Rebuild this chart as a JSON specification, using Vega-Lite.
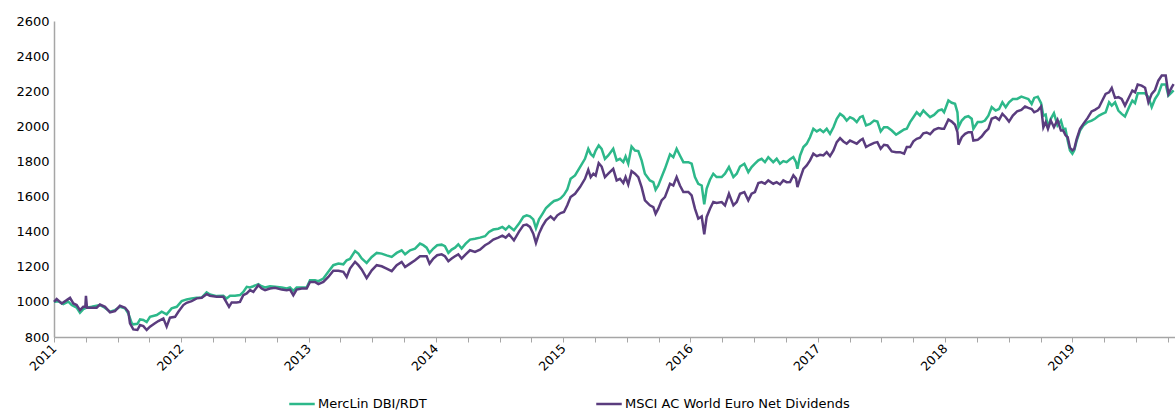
{
 "$schema": "https://vega.github.io/schema/vega-lite/v6.json",
 "width": 1121, "height": 316,
 "autosize": {"type": "none"},
 "padding": {"left": 54, "top": 21, "right": 0, "bottom": 75},
 "background": "white",
 "config": {"view": {"stroke": null}, "font": "DejaVu Sans"},
 "data": {"values": [
{"t":2011.000,"MercLin DBI/RDT":1000,"MSCI AC World Euro Net Dividends":1000},
{"t":2011.021,"MercLin DBI/RDT":null,"MSCI AC World Euro Net Dividends":1016},
{"t":2011.034,"MercLin DBI/RDT":1004,"MSCI AC World Euro Net Dividends":null},
{"t":2011.060,"MercLin DBI/RDT":null,"MSCI AC World Euro Net Dividends":991},
{"t":2011.073,"MercLin DBI/RDT":987,"MSCI AC World Euro Net Dividends":null},
{"t":2011.100,"MercLin DBI/RDT":null,"MSCI AC World Euro Net Dividends":1010},
{"t":2011.113,"MercLin DBI/RDT":1001,"MSCI AC World Euro Net Dividends":null},
{"t":2011.126,"MercLin DBI/RDT":null,"MSCI AC World Euro Net Dividends":1023},
{"t":2011.139,"MercLin DBI/RDT":982,"MSCI AC World Euro Net Dividends":null},
{"t":2011.152,"MercLin DBI/RDT":null,"MSCI AC World Euro Net Dividends":991},
{"t":2011.178,"MercLin DBI/RDT":968,"MSCI AC World Euro Net Dividends":982},
{"t":2011.204,"MercLin DBI/RDT":938,"MSCI AC World Euro Net Dividends":953},
{"t":2011.230,"MercLin DBI/RDT":959,"MSCI AC World Euro Net Dividends":972},
{"t":2011.246,"MercLin DBI/RDT":null,"MSCI AC World Euro Net Dividends":972},
{"t":2011.251,"MercLin DBI/RDT":null,"MSCI AC World Euro Net Dividends":1035},
{"t":2011.257,"MercLin DBI/RDT":967,"MSCI AC World Euro Net Dividends":null},
{"t":2011.259,"MercLin DBI/RDT":null,"MSCI AC World Euro Net Dividends":967},
{"t":2011.296,"MercLin DBI/RDT":972,"MSCI AC World Euro Net Dividends":967},
{"t":2011.335,"MercLin DBI/RDT":null,"MSCI AC World Euro Net Dividends":967},
{"t":2011.361,"MercLin DBI/RDT":982,"MSCI AC World Euro Net Dividends":985},
{"t":2011.388,"MercLin DBI/RDT":972,"MSCI AC World Euro Net Dividends":null},
{"t":2011.401,"MercLin DBI/RDT":null,"MSCI AC World Euro Net Dividends":972},
{"t":2011.440,"MercLin DBI/RDT":944,"MSCI AC World Euro Net Dividends":940},
{"t":2011.479,"MercLin DBI/RDT":953,"MSCI AC World Euro Net Dividends":948},
{"t":2011.518,"MercLin DBI/RDT":972,"MSCI AC World Euro Net Dividends":978},
{"t":2011.558,"MercLin DBI/RDT":963,"MSCI AC World Euro Net Dividends":967},
{"t":2011.584,"MercLin DBI/RDT":934,"MSCI AC World Euro Net Dividends":944},
{"t":2011.597,"MercLin DBI/RDT":null,"MSCI AC World Euro Net Dividends":878},
{"t":2011.610,"MercLin DBI/RDT":880,"MSCI AC World Euro Net Dividends":null},
{"t":2011.623,"MercLin DBI/RDT":872,"MSCI AC World Euro Net Dividends":843},
{"t":2011.655,"MercLin DBI/RDT":875,"MSCI AC World Euro Net Dividends":840},
{"t":2011.676,"MercLin DBI/RDT":900,"MSCI AC World Euro Net Dividends":868},
{"t":2011.702,"MercLin DBI/RDT":897,"MSCI AC World Euro Net Dividends":862},
{"t":2011.728,"MercLin DBI/RDT":885,"MSCI AC World Euro Net Dividends":840},
{"t":2011.754,"MercLin DBI/RDT":915,"MSCI AC World Euro Net Dividends":859},
{"t":2011.793,"MercLin DBI/RDT":null,"MSCI AC World Euro Net Dividends":878},
{"t":2011.807,"MercLin DBI/RDT":925,"MSCI AC World Euro Net Dividends":null},
{"t":2011.820,"MercLin DBI/RDT":null,"MSCI AC World Euro Net Dividends":891},
{"t":2011.846,"MercLin DBI/RDT":944,"MSCI AC World Euro Net Dividends":null},
{"t":2011.859,"MercLin DBI/RDT":null,"MSCI AC World Euro Net Dividends":906},
{"t":2011.885,"MercLin DBI/RDT":929,"MSCI AC World Euro Net Dividends":859},
{"t":2011.911,"MercLin DBI/RDT":null,"MSCI AC World Euro Net Dividends":910},
{"t":2011.924,"MercLin DBI/RDT":963,"MSCI AC World Euro Net Dividends":null},
{"t":2011.951,"MercLin DBI/RDT":null,"MSCI AC World Euro Net Dividends":915},
{"t":2011.964,"MercLin DBI/RDT":972,"MSCI AC World Euro Net Dividends":null},
{"t":2011.977,"MercLin DBI/RDT":null,"MSCI AC World Euro Net Dividends":944},
{"t":2012.003,"MercLin DBI/RDT":1004,"MSCI AC World Euro Net Dividends":null},
{"t":2012.016,"MercLin DBI/RDT":null,"MSCI AC World Euro Net Dividends":982},
{"t":2012.042,"MercLin DBI/RDT":1014,"MSCI AC World Euro Net Dividends":995},
{"t":2012.081,"MercLin DBI/RDT":1020,"MSCI AC World Euro Net Dividends":1004},
{"t":2012.121,"MercLin DBI/RDT":1023,"MSCI AC World Euro Net Dividends":1020},
{"t":2012.160,"MercLin DBI/RDT":1025,"MSCI AC World Euro Net Dividends":1023},
{"t":2012.199,"MercLin DBI/RDT":1054,"MSCI AC World Euro Net Dividends":1044},
{"t":2012.225,"MercLin DBI/RDT":1042,"MSCI AC World Euro Net Dividends":1035},
{"t":2012.278,"MercLin DBI/RDT":1033,"MSCI AC World Euro Net Dividends":1029},
{"t":2012.330,"MercLin DBI/RDT":1035,"MSCI AC World Euro Net Dividends":1029},
{"t":2012.356,"MercLin DBI/RDT":1020,"MSCI AC World Euro Net Dividends":null},
{"t":2012.375,"MercLin DBI/RDT":null,"MSCI AC World Euro Net Dividends":972},
{"t":2012.383,"MercLin DBI/RDT":1035,"MSCI AC World Euro Net Dividends":null},
{"t":2012.396,"MercLin DBI/RDT":null,"MSCI AC World Euro Net Dividends":997},
{"t":2012.422,"MercLin DBI/RDT":1035,"MSCI AC World Euro Net Dividends":null},
{"t":2012.435,"MercLin DBI/RDT":null,"MSCI AC World Euro Net Dividends":997},
{"t":2012.461,"MercLin DBI/RDT":1039,"MSCI AC World Euro Net Dividends":1000},
{"t":2012.487,"MercLin DBI/RDT":1057,"MSCI AC World Euro Net Dividends":1038},
{"t":2012.514,"MercLin DBI/RDT":1086,"MSCI AC World Euro Net Dividends":1048},
{"t":2012.540,"MercLin DBI/RDT":1082,"MSCI AC World Euro Net Dividends":1067},
{"t":2012.566,"MercLin DBI/RDT":1089,"MSCI AC World Euro Net Dividends":1057},
{"t":2012.605,"MercLin DBI/RDT":1101,"MSCI AC World Euro Net Dividends":1095},
{"t":2012.631,"MercLin DBI/RDT":1089,"MSCI AC World Euro Net Dividends":1076},
{"t":2012.658,"MercLin DBI/RDT":1082,"MSCI AC World Euro Net Dividends":1067},
{"t":2012.697,"MercLin DBI/RDT":1089,"MSCI AC World Euro Net Dividends":1076},
{"t":2012.736,"MercLin DBI/RDT":1086,"MSCI AC World Euro Net Dividends":1080},
{"t":2012.789,"MercLin DBI/RDT":1082,"MSCI AC World Euro Net Dividends":1070},
{"t":2012.828,"MercLin DBI/RDT":1076,"MSCI AC World Euro Net Dividends":1067},
{"t":2012.854,"MercLin DBI/RDT":1082,"MSCI AC World Euro Net Dividends":1070},
{"t":2012.880,"MercLin DBI/RDT":1063,"MSCI AC World Euro Net Dividends":1038},
{"t":2012.906,"MercLin DBI/RDT":1082,"MSCI AC World Euro Net Dividends":1070},
{"t":2012.946,"MercLin DBI/RDT":1082,"MSCI AC World Euro Net Dividends":1076},
{"t":2012.985,"MercLin DBI/RDT":1082,"MSCI AC World Euro Net Dividends":1076},
{"t":2013.011,"MercLin DBI/RDT":1123,"MSCI AC World Euro Net Dividends":1114},
{"t":2013.050,"MercLin DBI/RDT":1123,"MSCI AC World Euro Net Dividends":1114},
{"t":2013.077,"MercLin DBI/RDT":1118,"MSCI AC World Euro Net Dividends":1101},
{"t":2013.116,"MercLin DBI/RDT":1133,"MSCI AC World Euro Net Dividends":1114},
{"t":2013.155,"MercLin DBI/RDT":1171,"MSCI AC World Euro Net Dividends":1142},
{"t":2013.194,"MercLin DBI/RDT":1209,"MSCI AC World Euro Net Dividends":1177},
{"t":2013.234,"MercLin DBI/RDT":1218,"MSCI AC World Euro Net Dividends":1177},
{"t":2013.273,"MercLin DBI/RDT":1214,"MSCI AC World Euro Net Dividends":1171},
{"t":2013.299,"MercLin DBI/RDT":1237,"MSCI AC World Euro Net Dividends":1142},
{"t":2013.325,"MercLin DBI/RDT":1245,"MSCI AC World Euro Net Dividends":1190},
{"t":2013.365,"MercLin DBI/RDT":1290,"MSCI AC World Euro Net Dividends":1228},
{"t":2013.391,"MercLin DBI/RDT":1275,"MSCI AC World Euro Net Dividends":1209},
{"t":2013.417,"MercLin DBI/RDT":1247,"MSCI AC World Euro Net Dividends":1185},
{"t":2013.456,"MercLin DBI/RDT":1222,"MSCI AC World Euro Net Dividends":1135},
{"t":2013.496,"MercLin DBI/RDT":1256,"MSCI AC World Euro Net Dividends":1180},
{"t":2013.535,"MercLin DBI/RDT":1279,"MSCI AC World Euro Net Dividends":1209},
{"t":2013.574,"MercLin DBI/RDT":1275,"MSCI AC World Euro Net Dividends":1203},
{"t":2013.613,"MercLin DBI/RDT":1265,"MSCI AC World Euro Net Dividends":1190},
{"t":2013.653,"MercLin DBI/RDT":1256,"MSCI AC World Euro Net Dividends":1175},
{"t":2013.692,"MercLin DBI/RDT":1279,"MSCI AC World Euro Net Dividends":1209},
{"t":2013.731,"MercLin DBI/RDT":1294,"MSCI AC World Euro Net Dividends":1228},
{"t":2013.758,"MercLin DBI/RDT":1271,"MSCI AC World Euro Net Dividends":1199},
{"t":2013.797,"MercLin DBI/RDT":1294,"MSCI AC World Euro Net Dividends":1218},
{"t":2013.836,"MercLin DBI/RDT":1303,"MSCI AC World Euro Net Dividends":1237},
{"t":2013.875,"MercLin DBI/RDT":1332,"MSCI AC World Euro Net Dividends":1260},
{"t":2013.901,"MercLin DBI/RDT":1323,"MSCI AC World Euro Net Dividends":1260},
{"t":2013.927,"MercLin DBI/RDT":1309,"MSCI AC World Euro Net Dividends":1260},
{"t":2013.950,"MercLin DBI/RDT":1279,"MSCI AC World Euro Net Dividends":1218},
{"t":2013.980,"MercLin DBI/RDT":1304,"MSCI AC World Euro Net Dividends":1247},
{"t":2014.010,"MercLin DBI/RDT":1323,"MSCI AC World Euro Net Dividends":1266},
{"t":2014.045,"MercLin DBI/RDT":1326,"MSCI AC World Euro Net Dividends":1271},
{"t":2014.071,"MercLin DBI/RDT":1317,"MSCI AC World Euro Net Dividends":1260},
{"t":2014.098,"MercLin DBI/RDT":1279,"MSCI AC World Euro Net Dividends":1232},
{"t":2014.124,"MercLin DBI/RDT":1298,"MSCI AC World Euro Net Dividends":1247},
{"t":2014.150,"MercLin DBI/RDT":1309,"MSCI AC World Euro Net Dividends":1260},
{"t":2014.176,"MercLin DBI/RDT":1328,"MSCI AC World Euro Net Dividends":1271},
{"t":2014.202,"MercLin DBI/RDT":1304,"MSCI AC World Euro Net Dividends":1247},
{"t":2014.234,"MercLin DBI/RDT":1332,"MSCI AC World Euro Net Dividends":1271},
{"t":2014.268,"MercLin DBI/RDT":1355,"MSCI AC World Euro Net Dividends":1294},
{"t":2014.307,"MercLin DBI/RDT":1360,"MSCI AC World Euro Net Dividends":1285},
{"t":2014.346,"MercLin DBI/RDT":1366,"MSCI AC World Euro Net Dividends":1298},
{"t":2014.386,"MercLin DBI/RDT":1374,"MSCI AC World Euro Net Dividends":1323},
{"t":2014.417,"MercLin DBI/RDT":1398,"MSCI AC World Euro Net Dividends":1335},
{"t":2014.451,"MercLin DBI/RDT":1412,"MSCI AC World Euro Net Dividends":1355},
{"t":2014.490,"MercLin DBI/RDT":1417,"MSCI AC World Euro Net Dividends":1366},
{"t":2014.522,"MercLin DBI/RDT":1427,"MSCI AC World Euro Net Dividends":1377},
{"t":2014.548,"MercLin DBI/RDT":1412,"MSCI AC World Euro Net Dividends":1366},
{"t":2014.574,"MercLin DBI/RDT":1431,"MSCI AC World Euro Net Dividends":1385},
{"t":2014.613,"MercLin DBI/RDT":1408,"MSCI AC World Euro Net Dividends":1351},
{"t":2014.653,"MercLin DBI/RDT":1446,"MSCI AC World Euro Net Dividends":1400},
{"t":2014.687,"MercLin DBI/RDT":1485,"MSCI AC World Euro Net Dividends":1436},
{"t":2014.713,"MercLin DBI/RDT":1493,"MSCI AC World Euro Net Dividends":1440},
{"t":2014.739,"MercLin DBI/RDT":1487,"MSCI AC World Euro Net Dividends":1427},
{"t":2014.765,"MercLin DBI/RDT":1470,"MSCI AC World Euro Net Dividends":1389},
{"t":2014.786,"MercLin DBI/RDT":1420,"MSCI AC World Euro Net Dividends":1336},
{"t":2014.810,"MercLin DBI/RDT":1470,"MSCI AC World Euro Net Dividends":1389},
{"t":2014.836,"MercLin DBI/RDT":1500,"MSCI AC World Euro Net Dividends":1430},
{"t":2014.865,"MercLin DBI/RDT":1535,"MSCI AC World Euro Net Dividends":1465},
{"t":2014.901,"MercLin DBI/RDT":1559,"MSCI AC World Euro Net Dividends":1487},
{"t":2014.928,"MercLin DBI/RDT":1575,"MSCI AC World Euro Net Dividends":1468},
{"t":2014.954,"MercLin DBI/RDT":1580,"MSCI AC World Euro Net Dividends":1493},
{"t":2014.980,"MercLin DBI/RDT":1590,"MSCI AC World Euro Net Dividends":1506},
{"t":2015.006,"MercLin DBI/RDT":1610,"MSCI AC World Euro Net Dividends":1512},
{"t":2015.032,"MercLin DBI/RDT":1640,"MSCI AC World Euro Net Dividends":1550},
{"t":2015.058,"MercLin DBI/RDT":1701,"MSCI AC World Euro Net Dividends":1597},
{"t":2015.093,"MercLin DBI/RDT":1720,"MSCI AC World Euro Net Dividends":1616},
{"t":2015.132,"MercLin DBI/RDT":1768,"MSCI AC World Euro Net Dividends":1654},
{"t":2015.171,"MercLin DBI/RDT":1815,"MSCI AC World Euro Net Dividends":1701},
{"t":2015.197,"MercLin DBI/RDT":1872,"MSCI AC World Euro Net Dividends":1752},
{"t":2015.216,"MercLin DBI/RDT":1843,"MSCI AC World Euro Net Dividends":1711},
{"t":2015.237,"MercLin DBI/RDT":1828,"MSCI AC World Euro Net Dividends":1730},
{"t":2015.255,"MercLin DBI/RDT":1862,"MSCI AC World Euro Net Dividends":1720},
{"t":2015.279,"MercLin DBI/RDT":1891,"MSCI AC World Euro Net Dividends":1790},
{"t":2015.302,"MercLin DBI/RDT":1872,"MSCI AC World Euro Net Dividends":1771},
{"t":2015.328,"MercLin DBI/RDT":1815,"MSCI AC World Euro Net Dividends":1711},
{"t":2015.354,"MercLin DBI/RDT":1834,"MSCI AC World Euro Net Dividends":1730},
{"t":2015.393,"MercLin DBI/RDT":1872,"MSCI AC World Euro Net Dividends":1758},
{"t":2015.420,"MercLin DBI/RDT":1806,"MSCI AC World Euro Net Dividends":1692},
{"t":2015.446,"MercLin DBI/RDT":1815,"MSCI AC World Euro Net Dividends":1701},
{"t":2015.472,"MercLin DBI/RDT":1796,"MSCI AC World Euro Net Dividends":1677},
{"t":2015.490,"MercLin DBI/RDT":1828,"MSCI AC World Euro Net Dividends":1711},
{"t":2015.511,"MercLin DBI/RDT":1787,"MSCI AC World Euro Net Dividends":1669},
{"t":2015.537,"MercLin DBI/RDT":1885,"MSCI AC World Euro Net Dividends":1745},
{"t":2015.564,"MercLin DBI/RDT":1862,"MSCI AC World Euro Net Dividends":1730},
{"t":2015.590,"MercLin DBI/RDT":1859,"MSCI AC World Euro Net Dividends":1711},
{"t":2015.616,"MercLin DBI/RDT":1806,"MSCI AC World Euro Net Dividends":1654},
{"t":2015.642,"MercLin DBI/RDT":1730,"MSCI AC World Euro Net Dividends":1578},
{"t":2015.681,"MercLin DBI/RDT":1692,"MSCI AC World Euro Net Dividends":1550},
{"t":2015.708,"MercLin DBI/RDT":1682,"MSCI AC World Euro Net Dividends":1540},
{"t":2015.726,"MercLin DBI/RDT":1639,"MSCI AC World Euro Net Dividends":1502},
{"t":2015.747,"MercLin DBI/RDT":1663,"MSCI AC World Euro Net Dividends":1531},
{"t":2015.773,"MercLin DBI/RDT":1711,"MSCI AC World Euro Net Dividends":1578},
{"t":2015.799,"MercLin DBI/RDT":1758,"MSCI AC World Euro Net Dividends":1597},
{"t":2015.839,"MercLin DBI/RDT":1840,"MSCI AC World Euro Net Dividends":1673},
{"t":2015.865,"MercLin DBI/RDT":1824,"MSCI AC World Euro Net Dividends":1663},
{"t":2015.891,"MercLin DBI/RDT":1872,"MSCI AC World Euro Net Dividends":1711},
{"t":2015.917,"MercLin DBI/RDT":1834,"MSCI AC World Euro Net Dividends":1663},
{"t":2015.944,"MercLin DBI/RDT":1796,"MSCI AC World Euro Net Dividends":1626},
{"t":2015.983,"MercLin DBI/RDT":1796,"MSCI AC World Euro Net Dividends":1626},
{"t":2016.009,"MercLin DBI/RDT":1787,"MSCI AC World Euro Net Dividends":1607},
{"t":2016.035,"MercLin DBI/RDT":1711,"MSCI AC World Euro Net Dividends":1531},
{"t":2016.061,"MercLin DBI/RDT":1673,"MSCI AC World Euro Net Dividends":1474},
{"t":2016.088,"MercLin DBI/RDT":1663,"MSCI AC World Euro Net Dividends":1487},
{"t":2016.108,"MercLin DBI/RDT":1556,"MSCI AC World Euro Net Dividends":1385},
{"t":2016.127,"MercLin DBI/RDT":1645,"MSCI AC World Euro Net Dividends":1484},
{"t":2016.153,"MercLin DBI/RDT":1696,"MSCI AC World Euro Net Dividends":1531},
{"t":2016.179,"MercLin DBI/RDT":1730,"MSCI AC World Euro Net Dividends":1569},
{"t":2016.205,"MercLin DBI/RDT":1711,"MSCI AC World Euro Net Dividends":1563},
{"t":2016.245,"MercLin DBI/RDT":1711,"MSCI AC World Euro Net Dividends":1569},
{"t":2016.271,"MercLin DBI/RDT":1730,"MSCI AC World Euro Net Dividends":1550},
{"t":2016.302,"MercLin DBI/RDT":1768,"MSCI AC World Euro Net Dividends":1616},
{"t":2016.337,"MercLin DBI/RDT":1711,"MSCI AC World Euro Net Dividends":1550},
{"t":2016.363,"MercLin DBI/RDT":1730,"MSCI AC World Euro Net Dividends":1569},
{"t":2016.389,"MercLin DBI/RDT":1771,"MSCI AC World Euro Net Dividends":1616},
{"t":2016.423,"MercLin DBI/RDT":1787,"MSCI AC World Euro Net Dividends":1626},
{"t":2016.454,"MercLin DBI/RDT":1739,"MSCI AC World Euro Net Dividends":1578},
{"t":2016.480,"MercLin DBI/RDT":1768,"MSCI AC World Euro Net Dividends":1616},
{"t":2016.506,"MercLin DBI/RDT":1787,"MSCI AC World Euro Net Dividends":1626},
{"t":2016.533,"MercLin DBI/RDT":1806,"MSCI AC World Euro Net Dividends":1677},
{"t":2016.559,"MercLin DBI/RDT":1815,"MSCI AC World Euro Net Dividends":1682},
{"t":2016.585,"MercLin DBI/RDT":1796,"MSCI AC World Euro Net Dividends":1673},
{"t":2016.611,"MercLin DBI/RDT":1824,"MSCI AC World Euro Net Dividends":1692},
{"t":2016.650,"MercLin DBI/RDT":1796,"MSCI AC World Euro Net Dividends":1673},
{"t":2016.677,"MercLin DBI/RDT":1815,"MSCI AC World Euro Net Dividends":1682},
{"t":2016.703,"MercLin DBI/RDT":1787,"MSCI AC World Euro Net Dividends":1669},
{"t":2016.729,"MercLin DBI/RDT":1802,"MSCI AC World Euro Net Dividends":1692},
{"t":2016.755,"MercLin DBI/RDT":1796,"MSCI AC World Euro Net Dividends":1682},
{"t":2016.782,"MercLin DBI/RDT":1812,"MSCI AC World Euro Net Dividends":1683},
{"t":2016.808,"MercLin DBI/RDT":1825,"MSCI AC World Euro Net Dividends":1721},
{"t":2016.829,"MercLin DBI/RDT":1796,"MSCI AC World Euro Net Dividends":1702},
{"t":2016.840,"MercLin DBI/RDT":1758,"MSCI AC World Euro Net Dividends":1654},
{"t":2016.861,"MercLin DBI/RDT":1834,"MSCI AC World Euro Net Dividends":1702},
{"t":2016.887,"MercLin DBI/RDT":1882,"MSCI AC World Euro Net Dividends":1758},
{"t":2016.913,"MercLin DBI/RDT":1901,"MSCI AC World Euro Net Dividends":1777},
{"t":2016.939,"MercLin DBI/RDT":1938,"MSCI AC World Euro Net Dividends":1806},
{"t":2016.965,"MercLin DBI/RDT":1986,"MSCI AC World Euro Net Dividends":1844},
{"t":2016.992,"MercLin DBI/RDT":1971,"MSCI AC World Euro Net Dividends":1830},
{"t":2017.018,"MercLin DBI/RDT":1982,"MSCI AC World Euro Net Dividends":1838},
{"t":2017.044,"MercLin DBI/RDT":1967,"MSCI AC World Euro Net Dividends":1834},
{"t":2017.070,"MercLin DBI/RDT":1986,"MSCI AC World Euro Net Dividends":1853},
{"t":2017.096,"MercLin DBI/RDT":1957,"MSCI AC World Euro Net Dividends":1830},
{"t":2017.123,"MercLin DBI/RDT":1995,"MSCI AC World Euro Net Dividends":1863},
{"t":2017.149,"MercLin DBI/RDT":2043,"MSCI AC World Euro Net Dividends":1910},
{"t":2017.175,"MercLin DBI/RDT":2071,"MSCI AC World Euro Net Dividends":1933},
{"t":2017.201,"MercLin DBI/RDT":2058,"MSCI AC World Euro Net Dividends":1914},
{"t":2017.227,"MercLin DBI/RDT":2033,"MSCI AC World Euro Net Dividends":1901},
{"t":2017.253,"MercLin DBI/RDT":2052,"MSCI AC World Euro Net Dividends":1919},
{"t":2017.280,"MercLin DBI/RDT":2043,"MSCI AC World Euro Net Dividends":1910},
{"t":2017.306,"MercLin DBI/RDT":2024,"MSCI AC World Euro Net Dividends":1901},
{"t":2017.332,"MercLin DBI/RDT":2052,"MSCI AC World Euro Net Dividends":1919},
{"t":2017.353,"MercLin DBI/RDT":2058,"MSCI AC World Euro Net Dividends":1929},
{"t":2017.379,"MercLin DBI/RDT":2005,"MSCI AC World Euro Net Dividends":1882},
{"t":2017.410,"MercLin DBI/RDT":2014,"MSCI AC World Euro Net Dividends":1895},
{"t":2017.442,"MercLin DBI/RDT":2033,"MSCI AC World Euro Net Dividends":1906},
{"t":2017.468,"MercLin DBI/RDT":2027,"MSCI AC World Euro Net Dividends":1910},
{"t":2017.494,"MercLin DBI/RDT":1971,"MSCI AC World Euro Net Dividends":1872},
{"t":2017.520,"MercLin DBI/RDT":1995,"MSCI AC World Euro Net Dividends":1895},
{"t":2017.547,"MercLin DBI/RDT":1995,"MSCI AC World Euro Net Dividends":1891},
{"t":2017.581,"MercLin DBI/RDT":1976,"MSCI AC World Euro Net Dividends":1857},
{"t":2017.615,"MercLin DBI/RDT":1952,"MSCI AC World Euro Net Dividends":1853},
{"t":2017.646,"MercLin DBI/RDT":1967,"MSCI AC World Euro Net Dividends":1853},
{"t":2017.678,"MercLin DBI/RDT":1982,"MSCI AC World Euro Net Dividends":1844},
{"t":2017.699,"MercLin DBI/RDT":1986,"MSCI AC World Euro Net Dividends":1882},
{"t":2017.725,"MercLin DBI/RDT":2024,"MSCI AC World Euro Net Dividends":1882},
{"t":2017.751,"MercLin DBI/RDT":2052,"MSCI AC World Euro Net Dividends":1915},
{"t":2017.777,"MercLin DBI/RDT":2080,"MSCI AC World Euro Net Dividends":1929},
{"t":2017.803,"MercLin DBI/RDT":2062,"MSCI AC World Euro Net Dividends":1935},
{"t":2017.829,"MercLin DBI/RDT":2090,"MSCI AC World Euro Net Dividends":1960},
{"t":2017.855,"MercLin DBI/RDT":2071,"MSCI AC World Euro Net Dividends":1965},
{"t":2017.882,"MercLin DBI/RDT":2052,"MSCI AC World Euro Net Dividends":1955},
{"t":2017.913,"MercLin DBI/RDT":2065,"MSCI AC World Euro Net Dividends":1980},
{"t":2017.947,"MercLin DBI/RDT":2090,"MSCI AC World Euro Net Dividends":1990},
{"t":2017.974,"MercLin DBI/RDT":2096,"MSCI AC World Euro Net Dividends":1986},
{"t":2017.992,"MercLin DBI/RDT":2080,"MSCI AC World Euro Net Dividends":1986},
{"t":2018.026,"MercLin DBI/RDT":2147,"MSCI AC World Euro Net Dividends":2039},
{"t":2018.052,"MercLin DBI/RDT":2134,"MSCI AC World Euro Net Dividends":2027},
{"t":2018.078,"MercLin DBI/RDT":2128,"MSCI AC World Euro Net Dividends":2009},
{"t":2018.097,"MercLin DBI/RDT":2080,"MSCI AC World Euro Net Dividends":1967},
{"t":2018.105,"MercLin DBI/RDT":1995,"MSCI AC World Euro Net Dividends":1895},
{"t":2018.131,"MercLin DBI/RDT":2033,"MSCI AC World Euro Net Dividends":1938},
{"t":2018.157,"MercLin DBI/RDT":2052,"MSCI AC World Euro Net Dividends":1957},
{"t":2018.183,"MercLin DBI/RDT":2058,"MSCI AC World Euro Net Dividends":1967},
{"t":2018.209,"MercLin DBI/RDT":2043,"MSCI AC World Euro Net Dividends":1967},
{"t":2018.222,"MercLin DBI/RDT":1986,"MSCI AC World Euro Net Dividends":1919},
{"t":2018.256,"MercLin DBI/RDT":2024,"MSCI AC World Euro Net Dividends":1923},
{"t":2018.287,"MercLin DBI/RDT":2024,"MSCI AC World Euro Net Dividends":1942},
{"t":2018.313,"MercLin DBI/RDT":2033,"MSCI AC World Euro Net Dividends":1967},
{"t":2018.340,"MercLin DBI/RDT":2061,"MSCI AC World Euro Net Dividends":1986},
{"t":2018.366,"MercLin DBI/RDT":2109,"MSCI AC World Euro Net Dividends":2043},
{"t":2018.397,"MercLin DBI/RDT":2090,"MSCI AC World Euro Net Dividends":2052},
{"t":2018.424,"MercLin DBI/RDT":2099,"MSCI AC World Euro Net Dividends":2037},
{"t":2018.450,"MercLin DBI/RDT":2137,"MSCI AC World Euro Net Dividends":2071},
{"t":2018.476,"MercLin DBI/RDT":2109,"MSCI AC World Euro Net Dividends":2052},
{"t":2018.502,"MercLin DBI/RDT":2137,"MSCI AC World Euro Net Dividends":2027},
{"t":2018.532,"MercLin DBI/RDT":2156,"MSCI AC World Euro Net Dividends":2061},
{"t":2018.566,"MercLin DBI/RDT":2156,"MSCI AC World Euro Net Dividends":2086},
{"t":2018.599,"MercLin DBI/RDT":2169,"MSCI AC World Euro Net Dividends":2094},
{"t":2018.628,"MercLin DBI/RDT":2162,"MSCI AC World Euro Net Dividends":2113},
{"t":2018.654,"MercLin DBI/RDT":2156,"MSCI AC World Euro Net Dividends":2105},
{"t":2018.680,"MercLin DBI/RDT":2128,"MSCI AC World Euro Net Dividends":2099},
{"t":2018.700,"MercLin DBI/RDT":2162,"MSCI AC World Euro Net Dividends":2080},
{"t":2018.728,"MercLin DBI/RDT":2169,"MSCI AC World Euro Net Dividends":2090},
{"t":2018.754,"MercLin DBI/RDT":2132,"MSCI AC World Euro Net Dividends":2113},
{"t":2018.772,"MercLin DBI/RDT":2061,"MSCI AC World Euro Net Dividends":1995},
{"t":2018.790,"MercLin DBI/RDT":2067,"MSCI AC World Euro Net Dividends":2024},
{"t":2018.808,"MercLin DBI/RDT":1995,"MSCI AC World Euro Net Dividends":1986},
{"t":2018.830,"MercLin DBI/RDT":2043,"MSCI AC World Euro Net Dividends":2033},
{"t":2018.855,"MercLin DBI/RDT":2075,"MSCI AC World Euro Net Dividends":1995},
{"t":2018.883,"MercLin DBI/RDT":2005,"MSCI AC World Euro Net Dividends":2037},
{"t":2018.910,"MercLin DBI/RDT":2033,"MSCI AC World Euro Net Dividends":1976},
{"t":2018.928,"MercLin DBI/RDT":1986,"MSCI AC World Euro Net Dividends":1976},
{"t":2018.945,"MercLin DBI/RDT":1986,"MSCI AC World Euro Net Dividends":1950},
{"t":2018.963,"MercLin DBI/RDT":1919,"MSCI AC World Euro Net Dividends":1938},
{"t":2018.981,"MercLin DBI/RDT":1863,"MSCI AC World Euro Net Dividends":1878},
{"t":2019.000,"MercLin DBI/RDT":1844,"MSCI AC World Euro Net Dividends":1863},
{"t":2019.015,"MercLin DBI/RDT":1863,"MSCI AC World Euro Net Dividends":1872},
{"t":2019.034,"MercLin DBI/RDT":1919,"MSCI AC World Euro Net Dividends":1929},
{"t":2019.060,"MercLin DBI/RDT":1976,"MSCI AC World Euro Net Dividends":1986},
{"t":2019.086,"MercLin DBI/RDT":2005,"MSCI AC World Euro Net Dividends":2014},
{"t":2019.120,"MercLin DBI/RDT":2024,"MSCI AC World Euro Net Dividends":2048},
{"t":2019.151,"MercLin DBI/RDT":2033,"MSCI AC World Euro Net Dividends":2085},
{"t":2019.177,"MercLin DBI/RDT":2043,"MSCI AC World Euro Net Dividends":2094},
{"t":2019.209,"MercLin DBI/RDT":2061,"MSCI AC World Euro Net Dividends":2109},
{"t":2019.235,"MercLin DBI/RDT":2071,"MSCI AC World Euro Net Dividends":2147},
{"t":2019.261,"MercLin DBI/RDT":2080,"MSCI AC World Euro Net Dividends":2185},
{"t":2019.288,"MercLin DBI/RDT":2137,"MSCI AC World Euro Net Dividends":2194},
{"t":2019.309,"MercLin DBI/RDT":2118,"MSCI AC World Euro Net Dividends":2219},
{"t":2019.335,"MercLin DBI/RDT":2137,"MSCI AC World Euro Net Dividends":2162},
{"t":2019.361,"MercLin DBI/RDT":2090,"MSCI AC World Euro Net Dividends":2166},
{"t":2019.387,"MercLin DBI/RDT":2071,"MSCI AC World Euro Net Dividends":2156},
{"t":2019.413,"MercLin DBI/RDT":2056,"MSCI AC World Euro Net Dividends":2118},
{"t":2019.445,"MercLin DBI/RDT":2109,"MSCI AC World Euro Net Dividends":2166},
{"t":2019.471,"MercLin DBI/RDT":2147,"MSCI AC World Euro Net Dividends":2204},
{"t":2019.492,"MercLin DBI/RDT":2132,"MSCI AC World Euro Net Dividends":2194},
{"t":2019.513,"MercLin DBI/RDT":2188,"MSCI AC World Euro Net Dividends":2238},
{"t":2019.544,"MercLin DBI/RDT":2188,"MSCI AC World Euro Net Dividends":2232},
{"t":2019.571,"MercLin DBI/RDT":2188,"MSCI AC World Euro Net Dividends":2220},
{"t":2019.597,"MercLin DBI/RDT":2166,"MSCI AC World Euro Net Dividends":2137},
{"t":2019.623,"MercLin DBI/RDT":2109,"MSCI AC World Euro Net Dividends":2185},
{"t":2019.649,"MercLin DBI/RDT":2156,"MSCI AC World Euro Net Dividends":2207},
{"t":2019.675,"MercLin DBI/RDT":2185,"MSCI AC World Euro Net Dividends":2260},
{"t":2019.702,"MercLin DBI/RDT":2238,"MSCI AC World Euro Net Dividends":2289},
{"t":2019.733,"MercLin DBI/RDT":2238,"MSCI AC World Euro Net Dividends":2289},
{"t":2019.754,"MercLin DBI/RDT":2175,"MSCI AC World Euro Net Dividends":2185},
{"t":2019.780,"MercLin DBI/RDT":2194,"MSCI AC World Euro Net Dividends":2222},
{"t":2019.795,"MercLin DBI/RDT":2205,"MSCI AC World Euro Net Dividends":2240}
 ]},
 "transform": [
  {"fold": ["MercLin DBI/RDT", "MSCI AC World Euro Net Dividends"], "as": ["series", "value"]},
  {"filter": "isValid(datum.value)"}
 ],
 "encoding": {
  "x": {"field": "t", "type": "quantitative",
        "scale": {"domain": [2011, 2019.806], "nice": false, "zero": false},
        "axis": {"title": null, "grid": false,
                 "values": [2011,2011.25,2011.5,2011.75,2012,2012.25,2012.5,2012.75,2013,2013.25,2013.5,2013.75,2014,2014.25,2014.5,2014.75,2015,2015.25,2015.5,2015.75,2016,2016.25,2016.5,2016.75,2017,2017.25,2017.5,2017.75,2018,2018.25,2018.5,2018.75,2019,2019.25,2019.5,2019.75],
                 "labelExpr": "datum.value % 1 == 0 ? format(datum.value, 'd') : ''",
                 "labelOverlap": false, "labelFlush": false,
                 "labelAngle": -45, "labelAlign": "right", "labelBaseline": "middle",
                 "labelFontSize": 12.5, "labelColor": "#000000",
                 "labelPadding": 4,
                 "domainColor": "#A6A6A6", "domainWidth": 1.5,
                 "tickColor": "#A6A6A6", "tickSize": 5, "tickWidth": 1}},
  "y": {"field": "value", "type": "quantitative",
        "scale": {"domain": [800, 2600], "nice": false, "zero": false},
        "axis": {"title": null, "grid": false, "ticks": false, "format": "d",
                 "values": [800,1000,1200,1400,1600,1800,2000,2200,2400,2600],
                 "labelFontSize": 13, "labelColor": "#000000", "labelPadding": 5,
                 "domainColor": "#A6A6A6", "domainWidth": 1.5}},
  "color": {"field": "series", "type": "nominal",
            "scale": {"domain": ["MercLin DBI/RDT", "MSCI AC World Euro Net Dividends"], "range": ["#2DB88A", "#5A3C7E"]},
            "legend": {"title": null, "orient": "none", "legendX": 234, "legendY": 369,
                       "direction": "horizontal", "columns": 2, "columnPadding": 164,
                       "symbolType": "stroke", "symbolSize": 650, "symbolStrokeWidth": 2.5,
                       "labelFontSize": 13, "labelColor": "#000000", "labelOffset": 2, "labelLimit": 0}}
 },
 "layer": [
  {"transform": [{"filter": "datum.series == 'MercLin DBI/RDT'"}],
   "mark": {"type": "line", "strokeWidth": 2.5, "interpolate": "linear"}},
  {"transform": [{"filter": "datum.series == 'MSCI AC World Euro Net Dividends'"}],
   "mark": {"type": "line", "strokeWidth": 2.5, "interpolate": "linear"}}
 ]
}
